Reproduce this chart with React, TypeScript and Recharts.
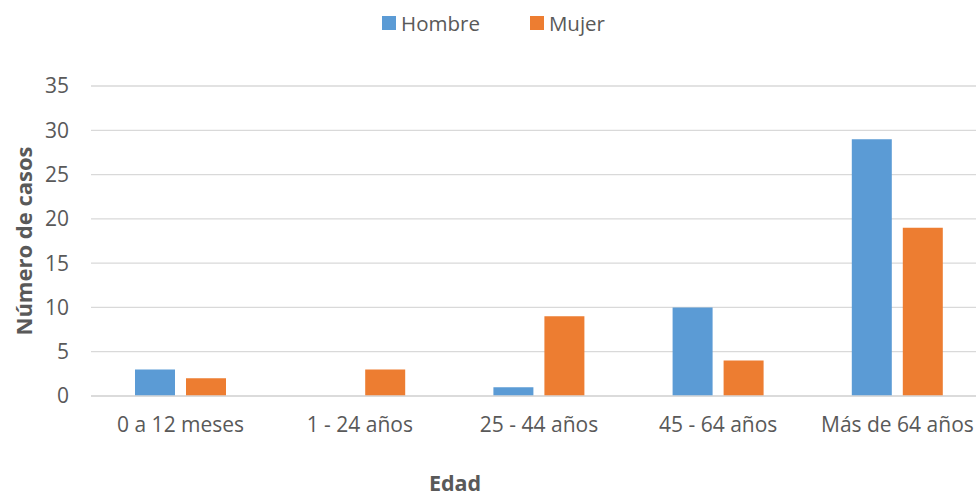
import React from 'react';
import { Bar, BarChart, CartesianGrid, Legend, XAxis, YAxis } from 'recharts';

const categories = ['0 a 12 meses', '1 - 24 años', '25 - 44 años', '45 - 64 años', 'Más de 64 años'];
const hombre = [3, 0, 1, 10, 29];
const mujer = [2, 3, 9, 4, 19];
const yTicks = [0, 5, 10, 15, 20, 25, 30, 35];

const data = categories.map((name, i) => ({ name, hombre: hombre[i], mujer: mujer[i] }));

const FONT = '"Open Sans", sans-serif';
const TEXT = '#595959';

function LegendContent() {
    const items = [
        { label: 'Hombre', color: '#5B9BD5' },
        { label: 'Mujer', color: '#ED7D31' },
    ];
    return (
        <div style={{ display: 'flex', justifyContent: 'center', gap: 50, fontFamily: FONT, fontSize: 20.5, color: TEXT }}>
            {items.map((it) => (
                <div key={it.label} style={{ display: 'flex', alignItems: 'center' }}>
                    <span style={{ width: 14, height: 14, background: it.color, marginRight: 5, display: 'inline-block' }} />
                    <span>{it.label}</span>
                </div>
            ))}
        </div>
    );
}

export default function App() {
    return (
        <div style={{ position: 'absolute', left: 0, top: 0, width: 976, height: 496, background: '#fff', overflow: 'hidden' }}>
            <BarChart
                width={976}
                height={496}
                data={data}
                margin={{ top: 46, right: -11, left: 0, bottom: 0 }}
                barSize={40}
                barGap={11}
            >
                <CartesianGrid vertical={false} stroke="#D9D9D9" strokeWidth={1.3} />
                <XAxis
                    dataKey="name"
                    height={100}
                    tickLine={false}
                    tickSize={0}
                    tickMargin={21}
                    axisLine={{ stroke: '#D9D9D9', strokeWidth: 1.3 }}
                    tick={{ fill: TEXT, fontSize: 21, fontFamily: FONT }}
                    label={{ value: 'Edad', position: 'insideBottom', offset: 5, dx: -84, fill: TEXT, fontSize: 21.5, fontWeight: 700, fontFamily: FONT }}
                />
                <YAxis
                    width={91}
                    domain={[0, 35]}
                    ticks={yTicks}
                    tickLine={false}
                    axisLine={false}
                    tickSize={0}
                    tickMargin={22}
                    tick={{ fill: TEXT, fontSize: 21, fontFamily: FONT }}
                    label={{ value: 'Número de casos', angle: -90, position: 'center', dx: -21, fill: TEXT, fontSize: 22, fontWeight: 700, fontFamily: FONT }}
                />
                <Legend verticalAlign="top" height={40} wrapperStyle={{ top: 9 }} content={<LegendContent />} />
                <Bar dataKey="hombre" name="Hombre" fill="#5B9BD5" isAnimationActive={false} />
                <Bar dataKey="mujer" name="Mujer" fill="#ED7D31" isAnimationActive={false} />
            </BarChart>
        </div>
    );
}
